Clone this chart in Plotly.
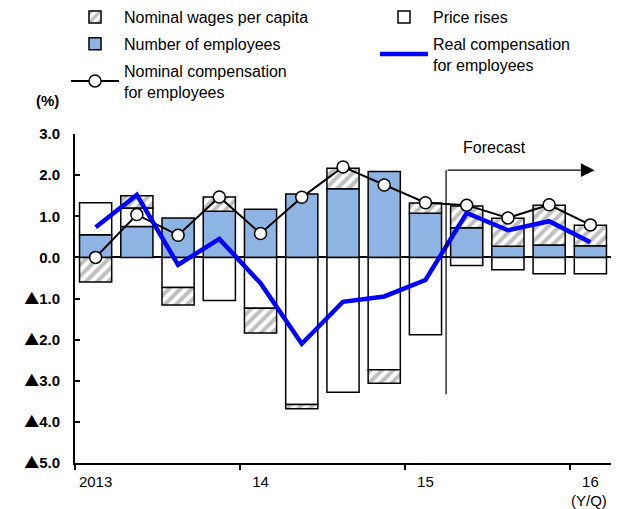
import plotly.graph_objects as go

# ---- data (contributions, % points, y/y) ----
quarters = ["2013Q1", "2013Q2", "2013Q3", "2013Q4",
            "2014Q1", "2014Q2", "2014Q3", "2014Q4",
            "2015Q1", "2015Q2", "2015Q3", "2015Q4", "2016Q1"]
year_labels = ["2013", "14", "15", "16"]
employees = [0.55, 0.75, 0.96, 1.12, 1.17, 1.54, 1.67, 2.09, 1.07, 0.72, 0.27, 0.30, 0.28]
price_rises = [0.78, 0.45, -0.73, -1.05, -1.24, -3.58, -3.28, -2.73, -1.88, -0.20, -0.30, -0.40, -0.40]
wages_per_capita = [-0.60, 0.30, -0.43, 0.35, -0.60, -0.10, 0.50, -0.33, 0.25, 0.53, 0.68, 0.97, 0.50]
nominal_comp = [0.00, 1.04, 0.54, 1.47, 0.58, 1.46, 2.20, 1.76, 1.33, 1.27, 0.96, 1.28, 0.79]
real_comp = [0.73, 1.52, -0.18, 0.45, -0.63, -2.10, -1.08, -0.95, -0.55, 1.08, 0.66, 0.88, 0.37]
forecast_from = "2015Q2"
y_ticks = [3, 2, 1, 0, -1, -2, -3, -4, -5]

FONT = "Arial, Liberation Sans, sans-serif"
BLUE_FILL = "#8DB4E2"
HATCH = dict(shape="/", fgcolor="#7f7f7f", bgcolor="white", size=8, solidity=0.5)
x = list(range(len(quarters)))
fc = quarters.index(forecast_from) - 0.5
year_pos = [i for i, q in enumerate(quarters) if q.endswith("Q1")]
year_bounds = [p - 0.5 for p in year_pos]

fig = go.Figure()
bar_line = dict(color="black", width=1.5)
fig.add_trace(go.Bar(x=x, y=employees, width=0.78, marker=dict(color=BLUE_FILL, line=bar_line),
                     name="Number of employees", legend="legend", legendrank=2))
fig.add_trace(go.Bar(x=x, y=price_rises, width=0.78, marker=dict(color="white", line=bar_line),
                     name="Price rises", legend="legend2", legendrank=1))
fig.add_trace(go.Bar(x=x, y=wages_per_capita, width=0.78,
                     marker=dict(color="white", line=bar_line, pattern=HATCH),
                     name="Nominal wages per capita", legend="legend", legendrank=1))
fig.add_trace(go.Scatter(x=x, y=nominal_comp, mode="lines+markers",
                         line=dict(color="black", width=2),
                         marker=dict(symbol="circle", size=12, color="white",
                                     line=dict(color="black", width=1.5)),
                         name="Nominal compensation<br>for employees",
                         legend="legend", legendrank=3))
fig.add_trace(go.Scatter(x=x, y=real_comp, mode="lines",
                         line=dict(color="#0000FF", width=4.5),
                         name="Real compensation<br>for employees",
                         legend="legend2", legendrank=2))
for i, tr in enumerate(fig.data):
    tr.legendgroup = "g%d" % i

legend_common = dict(xref="container", yref="container", xanchor="left", yanchor="top",
                     orientation="v", font=dict(family=FONT, size=16, color="black"),
                     bgcolor="rgba(0,0,0,0)", tracegroupgap=3, itemwidth=48,
                     traceorder="grouped")

PL, PT, PW, PH = 75, 134, 536, 329  # plot area in px (for paper-coord text placement)

def ylab(v):
    if v >= 0:
        return "<b>%.1f</b>" % v
    return ("<span style=\"font-family:'Noto Sans CJK JP'\">▲</span><b>%.1f</b>" % -v)

fig.update_layout(
    width=625, height=509,
    margin=dict(l=PL, r=625 - PL - PW, t=PT, b=509 - PT - PH, autoexpand=False),
    plot_bgcolor="white", paper_bgcolor="white",
    barmode="relative", bargap=0.2,
    font=dict(family=FONT, size=15, color="black"),
    legend=dict(x=66 / 625, y=1.0, **legend_common),
    legend2=dict(x=375 / 625, y=1.0, **legend_common),
    xaxis=dict(range=[-0.5, len(quarters) - 0.5], tickvals=year_pos, ticktext=year_labels,
               ticks="outside", ticklen=4, tickcolor="rgba(0,0,0,0)",
               minor=dict(tickvals=year_bounds, ticks="outside", ticklen=5, tickwidth=1.5,
                          tickcolor="black", showgrid=False),
               showline=True, linecolor="black", linewidth=1.5, showgrid=False,
               zeroline=False, tickfont=dict(size=15)),
    yaxis=dict(range=[-5, 3], tickvals=y_ticks, ticktext=[ylab(v) for v in y_ticks],
               ticks="inside", ticklen=5, tickwidth=1.5, tickcolor="black",
               showline=True, linecolor="black", linewidth=2, showgrid=False,
               zeroline=True, zerolinecolor="black", zerolinewidth=1.5,
               ticklabelstandoff=10, tickfont=dict(size=15)),
    shapes=[dict(type="line", xref="x", yref="y", x0=fc, x1=fc, y0=-3.33, y1=2.12,
                 line=dict(color="black", width=1.2))],
    annotations=[
        dict(xref="x", yref="y", x=12.1, y=2.12, ax=fc, ay=2.12, axref="x", ayref="y",
             showarrow=True, arrowhead=2, arrowsize=2.1, arrowwidth=1.3, arrowcolor="black",
             text=""),
        dict(xref="x", yref="y", x=9.68, y=2.66, text="Forecast", showarrow=False,
             font=dict(size=16)),
        dict(xref="paper", yref="paper", x=(47 - PL) / PW, y=(PT + PH - 100) / PH,
             xanchor="center", yanchor="middle",
             text="<b>(%)</b>", showarrow=False, font=dict(size=15)),
        dict(xref="paper", yref="paper", x=(589 - PL) / PW, y=(PT + PH - 500) / PH,
             xanchor="center", yanchor="middle", text="(Y/Q)", showarrow=False,
             font=dict(size=15)),
    ],
)
fig.write_html("out.html")
